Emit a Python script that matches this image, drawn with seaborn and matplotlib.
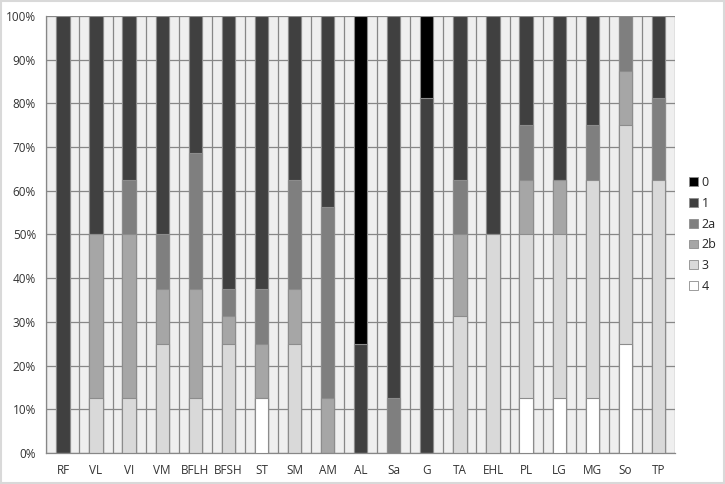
import numpy as np
import pandas as pd
import matplotlib
matplotlib.use("Agg")
import matplotlib.pyplot as plt
from matplotlib.patches import Patch, Rectangle
import seaborn as sns

categories = ["RF", "VL", "VI", "VM", "BFLH", "BFSH", "ST", "SM", "AM", "AL",
              "Sa", "G", "TA", "EHL", "PL", "LG", "MG", "So", "TP"]
# share of each grade (%) per category
grade_4 = [0, 0, 0, 0, 0, 0, 12.5, 0, 0, 0, 0, 0, 0, 0, 12.5, 12.5, 12.5, 25, 0]
grade_3 = [0, 12.5, 12.5, 25, 12.5, 25, 0, 25, 0, 0, 0, 0, 31.25, 50, 37.5, 37.5, 50, 50, 62.5]
grade_2b = [0, 37.5, 37.5, 12.5, 25, 6.25, 12.5, 12.5, 12.5, 0, 0, 0, 18.75, 0, 12.5, 12.5, 0, 12.5, 0]
grade_2a = [0, 0, 12.5, 12.5, 31.25, 6.25, 12.5, 25, 43.75, 0, 12.5, 0, 12.5, 0, 12.5, 0, 12.5, 12.5, 18.75]
grade_1 = [100, 50, 37.5, 50, 31.25, 62.5, 62.5, 37.5, 43.75, 25, 87.5, 81.25, 37.5, 50, 25, 37.5, 25, 0, 18.75]
grade_0 = [0, 0, 0, 0, 0, 0, 0, 0, 0, 75, 0, 18.75, 0, 0, 0, 0, 0, 0, 0]

grades = ["0", "1", "2a", "2b", "3", "4"]
colors = {"0": "#000000", "1": "#404040", "2a": "#7f7f7f",
          "2b": "#a6a6a6", "3": "#d9d9d9", "4": "#ffffff"}

df = pd.DataFrame({"cat": categories, "4": grade_4, "3": grade_3, "2b": grade_2b,
                   "2a": grade_2a, "1": grade_1, "0": grade_0})
# cumulative heights, stacking from grade 4 at the bottom
stack_order = ["4", "3", "2b", "2a", "1", "0"]
df[stack_order] = df[stack_order].cumsum(axis=1)

sns.set_style("white")
plt.rcParams["font.family"] = ["Open Sans", "DejaVu Sans"]

fig, ax = plt.subplots(figsize=(7.25, 4.84), dpi=100)
plt.subplots_adjust(left=0.064, right=0.931, top=0.967, bottom=0.064)
ax.set_facecolor("#efefef")

# draw tallest layer first so lower layers sit on top
for g in reversed(stack_order):
    sns.barplot(data=df, x="cat", y=g, color=colors[g], width=0.4,
                edgecolor="#8c8c8c", linewidth=0.8, saturation=1, ax=ax, zorder=3)

ax.set_ylim(0, 100)
ax.set_xlim(-0.5, len(categories) - 0.5)
ax.set_yticks(np.arange(0, 101, 10))
ax.set_yticklabels([f"{v}%" for v in range(0, 101, 10)])
ax.set_xticks(np.arange(-0.5, len(categories), 1), minor=True)
ax.grid(axis="y", which="major", color="#878787", linewidth=0.9, zorder=0)
ax.grid(axis="x", which="minor", color="#878787", linewidth=0.9, zorder=0)
ax.set_axisbelow(True)
ax.tick_params(axis="x", which="major", length=0, labelsize=8.5, pad=8, colors="#333333")
ax.tick_params(axis="x", which="minor", length=4, color="#878787", direction="out")
ax.tick_params(axis="y", length=4, color="#878787", labelsize=8.5, colors="#333333")
ax.set_xlabel("")
ax.set_ylabel("")
for side in ["top", "right"]:
    ax.spines[side].set_visible(False)
for side in ["left", "bottom"]:
    ax.spines[side].set_color("#878787")
    ax.spines[side].set_linewidth(0.9)

handles = [Patch(facecolor=colors[g], edgecolor="#8c8c8c", linewidth=0.6, label=g) for g in grades]
leg = ax.legend(handles=handles, loc="center left", bbox_to_anchor=(1.005, 0.5), frameon=False,
                handlelength=0.7, handleheight=0.7, handletextpad=0.3, labelspacing=0.62,
                fontsize=9)

fig.patches.append(Rectangle((0.002, 0.003), 0.996, 0.994, transform=fig.transFigure,
                             fill=False, edgecolor="#d9d9d9", linewidth=1.5))

plt.savefig("out.png", dpi=100)
